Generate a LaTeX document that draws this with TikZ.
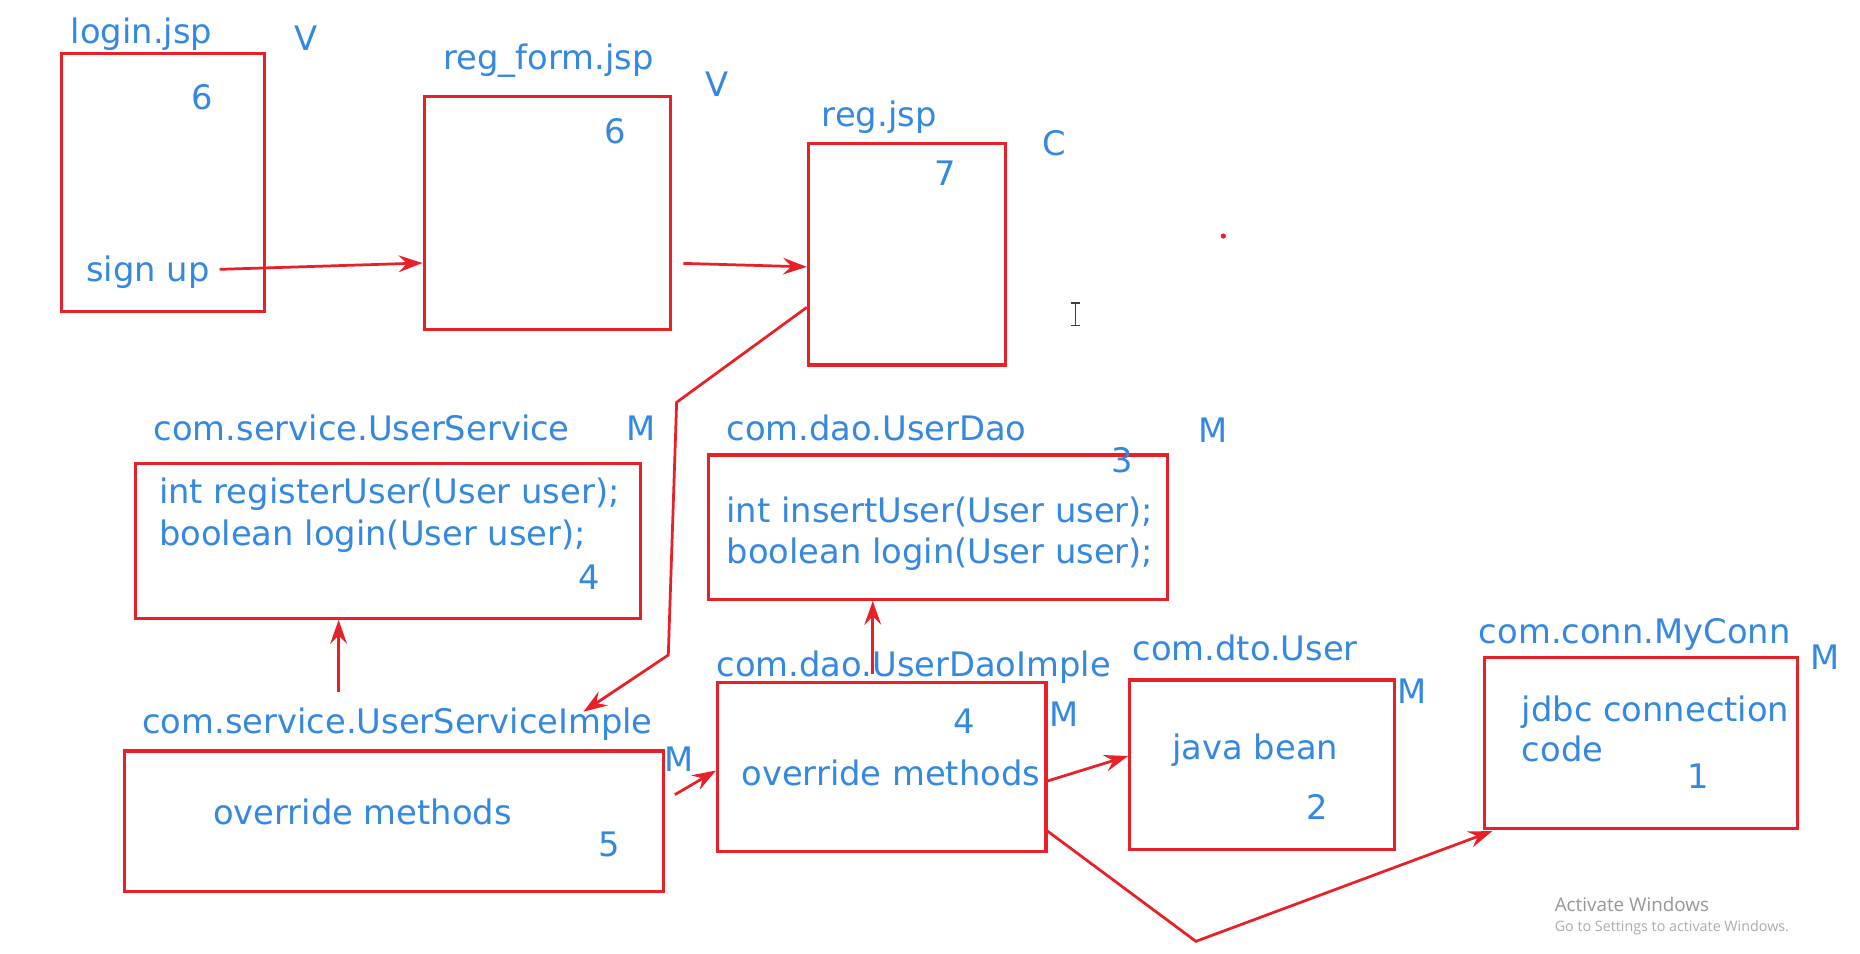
\documentclass[tikz,border=0pt]{standalone}
\usepackage{fontspec}
\setmainfont{DejaVu Sans}
\newfontfamily\winfont{Open Sans}
\usetikzlibrary{fit,calc,arrows.meta}
\definecolor{txtblue}{RGB}{52,136,226}
\definecolor{linered}{RGB}{232,32,40}
\definecolor{wingray}{RGB}{150,150,150}
\tikzset{
  box/.style={draw=linered, line width=1.3pt, inner sep=0pt},
  txt/.style={anchor=base west, inner sep=0pt, text=txtblue, font=\fontsize{14.15}{17}\selectfont},
  arr/.style={draw=linered, line width=1.15pt, -{Stealth[length=10pt,width=7pt,inset=3.5pt]}},
  wintxt/.style={anchor=base west, inner sep=0pt, text=wingray}
}
\begin{document}
\begin{tikzpicture}[x=0.5pt,y=-0.5pt]
\fill[white] (0,0) rectangle (1560,799.3);
\useasboundingbox (0,0) rectangle (1560,799.3);

% boxes
\node[box, fit={(51.3,44.7)(221.7,261.4)}] (login) {};
\node[box, fit={(355.7,81)(562.4,276)}] (regform) {};
\node[box, fit={(678,120)(843,306.1)}] (reg) {};
\node[box, fit={(113.8,388.6)(537,518.6)}] (usvc) {};
\node[box, fit={(594,381.6)(979.5,502.7)}] (udao) {};
\node[box, fit={(104.3,629.9)(556.3,747.9)}] (usvcimpl) {};
\node[box, fit={(601.9,572.3)(877.3,714.3)}] (udaoimpl) {};
\node[box, fit={(947.5,570.3)(1169.4,712.3)}] (user) {};
\node[box, fit={(1245,551.3)(1507.7,694.7)}] (myconn) {};

% texts
\node[txt] (tlogin) at (59,36.4) {login.jsp};
\node[txt] (vlogin) at (247,42) {V};
\node[txt] (nlogin) at (160,92) {6};
\node[txt] (signup) at (72,235.7) {sign up};

\node[txt] (tregform) at (371.6,58.7) {reg\_form.jsp};
\node[txt] (vregform) at (591.3,81.1) {V};
\node[txt] (nregform) at (506.4,120) {6};

\node[txt] (treg) at (689,106.3) {reg.jsp};
\node[txt] (creg) at (874.2,130) {C};
\node[txt] (nreg) at (783.5,155.7) {7};

\node[txt] (tusvc) at (128.5,369.6) {com.service.UserService};
\node[txt] (musvc) at (525,369.6) {M};
\node[txt] (l1usvc) at (133,422) {int registerUser(User user);};
\node[txt] (l2usvc) at (133,457.1) {boolean login(User user);};
\node[txt] (nusvc) at (485,494.3) {4};

\node[txt] (tudao) at (609,369.6) {com.dao.UserDao};
\node[txt] (mudao) at (1005,371.3) {M};
\node[txt] (nudao) at (932,396.4) {3};
\node[txt] (l1udao) at (609,438.4) {int insertUser(User user);};
\node[txt] (l2udao) at (609,472.5) {boolean login(User user);};

\node[txt] (tusvcimpl) at (119,615) {com.service.UserServiceImple};
\node[txt] (musvcimpl) at (556.9,646.7) {M};
\node[txt] (ousvcimpl) at (178.4,691.1) {override methods};
\node[txt] (nusvcimpl) at (501.8,718.5) {5};

\node[txt] (tudaoimpl) at (600.6,567.5) {com.dao.UserDaoImple};
\node[txt] (nudaoimpl) at (799.5,615) {4};
\node[txt] (mudaoimpl) at (880.1,609) {M};
\node[txt] (oudaoimpl) at (621.5,658.4) {override methods};

\node[txt] (tuser) at (949.5,554.1) {com.dto.User};
\node[txt] (muser) at (1172,589.9) {M};
\node[txt] (buser) at (983,637.4) {java bean};
\node[txt] (nuser) at (1095,687.2) {2};

\node[txt] (tmyconn) at (1240,539.6) {com.conn.MyConn};
\node[txt] (mmyconn) at (1518,561.9) {M};
\node[txt] (l1myconn) at (1276,605.3) {jdbc connection};
\node[txt] (l2myconn) at (1276,638.8) {code};
\node[txt] (nmyconn) at (1414.5,661.2) {1};

\node[wintxt, font=\winfont\fontsize{7.9}{9}\selectfont] (win1) at (1303.6,764.6) {Activate Windows};
\node[wintxt, font=\winfont\fontsize{6.0}{7}\selectfont, text=wingray!80] (win2) at (1303.6,781.4) {Go to Settings to activate Windows.};

% connector points
\coordinate (s1) at (184.2,225.9);
\coordinate (s2) at (573.1,220.9);
\coordinate (b1) at (567.5,337.4);
\coordinate (b2) at (560.5,549.4);
\coordinate (b3) at (489.3,596.9);
\coordinate (s4) at (284,580);
\coordinate (s5) at (732,565);
\coordinate (s6) at (566,666.5);
\coordinate (b8) at (1003,789.5);

% connectors
\draw[arr] (s1) -- ($(regform.north west)!0.713!(regform.south west)$);
\draw[arr] (s2) -- ($(reg.north west)!0.557!(reg.south west)$);
\draw[arr] ($(reg.north west)!0.737!(reg.south west)$) -- (b1) -- (b2) -- (b3);
\draw[arr] (s4) -- (usvc.south -| s4);
\draw[arr] (s5) -- (udao.south -| s5);
\draw[arr] (s6) -- ($(udaoimpl.north west)!0.52!(udaoimpl.south west)$);
\draw[arr] ($(udaoimpl.north east)!0.581!(udaoimpl.south east)$) -- ($(user.north west)!0.45!(user.south west)$);
\draw[arr] ($(udaoimpl.north east)!0.872!(udaoimpl.south east)$) -- (b8) -- ($(myconn.south west)+(8,1)$);

% cursor and dot
\fill[linered] (1026,198) circle (2.2);
\draw[black!75, line width=0.8pt] (902,254) -- (902,273)
  (898,254) -- (906,254) (898,273) -- (906,273);
\end{tikzpicture}
\end{document}
